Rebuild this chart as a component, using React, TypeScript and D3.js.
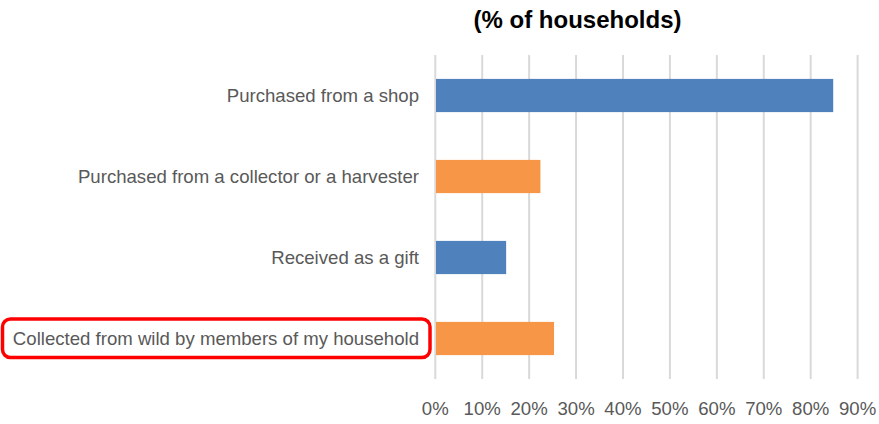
import React from "react";
import * as d3 from "d3";

const categories = [
  "Purchased from a shop",
  "Purchased from a collector or a harvester",
  "Received as a gift",
  "Collected from wild by members of my household",
];
const values = [84.8, 22.4, 15.1, 25.3];
const barColors = ["#4F81BD", "#F79646", "#4F81BD", "#F79646"];
const ticks = [0, 10, 20, 30, 40, 50, 60, 70, 80, 90];
const title = "(% of households)";
const highlighted = "Collected from wild by members of my household";

export default function App() {
  const W = 879, H = 424;
  const x = d3.scaleLinear().domain([0, 90]).range([435.3, 857.6]);
  const y = d3.scaleBand().domain(categories).range([55, 379]).paddingInner(0.59).paddingOuter(0.295);
  const font = "'Liberation Sans', Arial, sans-serif";
  const hy = y(highlighted)! + y.bandwidth() / 2;
  return (
    <svg width={W} height={H} style={{ position: "absolute", left: 0, top: 0 }}>
      <rect width={W} height={H} fill="#fff" />
      <text x={577.5} y={28} textAnchor="middle" fontFamily={font} fontWeight="bold" fontSize={24} fill="#000">{title}</text>
      {ticks.map((t) => (
        <line key={t} x1={x(t)} x2={x(t)} y1={55} y2={379} stroke="#D9D9D9" strokeWidth={2} />
      ))}
      {categories.map((c, i) => (
        <rect key={c} x={x(0) + 0.7} y={y(c)!} width={x(values[i]) - x(0) - 0.7} height={y.bandwidth()} fill={barColors[i]} />
      ))}
      {categories.map((c) => (
        <text key={c} x={419} y={y(c)! + y.bandwidth() / 2} dy="0.35em" textAnchor="end" fontFamily={font} fontSize={18.6} fill="#595959">{c}</text>
      ))}
      {ticks.map((t) => (
        <text key={t} x={x(t)} y={414.5} textAnchor="middle" fontFamily={font} fontSize={18.6} fill="#595959">{t}%</text>
      ))}
      <rect x={2.5} y={hy - 19.5} width={427.5} height={38.5} rx={8} ry={8} fill="none" stroke="#FF0000" strokeWidth={3.5} />
    </svg>
  );
}
